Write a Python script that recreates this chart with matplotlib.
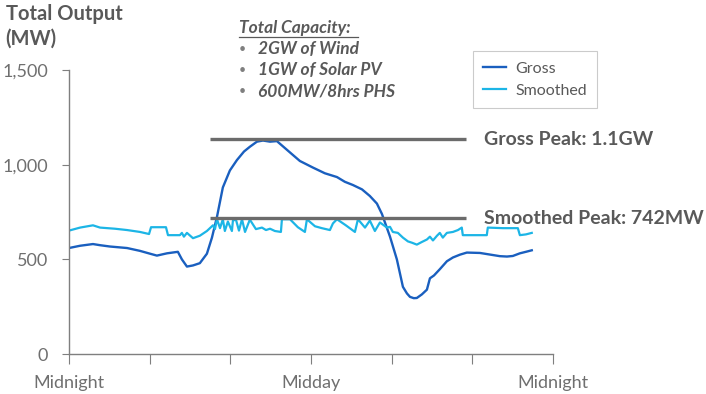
import matplotlib.pyplot as plt

# hours after midnight and output (MW)
gross_hours = [0, 0.55, 1.19, 1.54, 2.03, 2.88, 3.52, 4.02, 4.36, 4.86, 5.4, 5.6, 5.85,
               6.15, 6.49, 6.84, 7.09, 7.34, 7.63, 7.98, 8.33, 8.68, 8.97, 9.32, 9.62,
               9.97, 10.31, 10.96, 11.45, 12.1, 12.69, 13.29, 13.68, 14.08, 14.53, 14.92,
               15.27, 15.52, 15.72, 15.92, 16.26, 16.56, 16.76, 16.91, 17.1, 17.25, 17.5,
               17.75, 17.9, 18.1, 18.39, 18.74, 19.04, 19.39, 19.73, 20.38, 21.02, 21.37,
               21.72, 22.01, 22.36, 22.66, 22.95]
gross_mw = [560, 572, 581, 575, 568, 560, 545, 530, 520, 532, 540, 500, 462,
            468, 480, 530, 615, 725, 880, 970, 1025, 1070, 1095, 1122, 1128,
            1122, 1125, 1065, 1020, 985, 955, 935, 910, 893, 870, 835,
            795, 740, 680, 620, 500, 355, 320, 302, 295, 296, 315,
            340, 400, 415, 448, 490, 510, 525, 536, 534, 523, 517,
            515, 518, 532, 540, 548]

smooth_hours = [0, 0.55, 1.19, 1.54, 2.28, 2.88, 3.52, 3.97, 4.07, 4.81, 4.91, 5.5, 5.6,
                5.7, 5.85, 6.15, 6.49, 6.84, 7.14, 7.24, 7.34, 7.49, 7.63, 7.73, 7.88,
                8.08, 8.13, 8.28, 8.43, 8.58, 8.73, 8.97, 9.27, 9.57, 9.77, 9.97, 10.21,
                10.51, 10.56, 10.96, 11.35, 11.7, 11.8, 12.2, 12.54, 12.94, 13.09, 13.29,
                13.73, 14.18, 14.33, 14.68, 14.92, 15.17, 15.42, 15.77, 15.92, 16.06,
                16.31, 16.56, 16.81, 17.01, 17.25, 17.5, 17.75, 17.9, 18.05, 18.25,
                18.39, 18.54, 18.74, 19.04, 19.29, 19.48, 19.53, 20.72, 20.77, 21.52,
                22.26, 22.36, 22.66, 22.95]
smooth_mw = [652, 668, 680, 668, 662, 655, 645, 634, 670, 670, 628, 628, 640,
             620, 640, 612, 625, 650, 680, 660, 712, 665, 712, 650, 700,
             650, 705, 710, 652, 712, 645, 710, 660, 668, 655, 662, 650,
             645, 712, 712, 670, 645, 712, 675, 665, 655, 690, 712,
             680, 645, 712, 668, 705, 650, 695, 668, 672, 645,
             640, 615, 595, 588, 578, 592, 605, 620, 600, 625,
             640, 615, 640, 645, 655, 668, 628, 628, 668, 665,
             665, 628, 632, 640]

gross_peak = 1135
smooth_peak = 717
peak_span = [7.0, 19.7]

x_ticks = [0, 4, 8, 12, 16, 20, 24]
x_labels = ['Midnight', '', '', 'Midday', '', '', 'Midnight']
y_ticks = [0, 500, 1000, 1500]
y_labels = ['0', '500', '1,000', '1,500']
capacity = ['2GW of Wind', '1GW of Solar PV', '600MW/8hrs PHS']

plt.rcParams['font.family'] = ['Lato', 'DejaVu Sans']
text_grey = '#595959'
axis_grey = '#7f7f7f'

fig = plt.figure(figsize=(7.06, 3.94), dpi=100)
ax = fig.add_axes([0.0977, 0.1015, 0.6855, 0.7205])

ax.plot(gross_hours, gross_mw, color='#1a5fbf', linewidth=1.7, label='Gross')
ax.plot(smooth_hours, smooth_mw, color='#1cb5e6', linewidth=1.6, label='Smoothed')

ax.hlines([gross_peak, smooth_peak], peak_span[0], peak_span[1], color='#6b6b6b', linewidth=2.4)
ax.text(20.6, gross_peak, 'Gross Peak: 1.1GW', fontsize=14, fontweight='bold',
        color=text_grey, va='center', ha='left', clip_on=False)
ax.text(20.6, smooth_peak, 'Smoothed Peak: 742MW', fontsize=14, fontweight='bold',
        color=text_grey, va='center', ha='left', clip_on=False)

ax.set_xlim(0, 24)
ax.set_ylim(0, 1500)
ax.set_xticks(x_ticks)
ax.set_xticklabels(x_labels)
ax.set_yticks(y_ticks)
ax.set_yticklabels(y_labels)

for side in ['top', 'right']:
    ax.spines[side].set_visible(False)
for side in ['left', 'bottom']:
    ax.spines[side].set_color(axis_grey)
    ax.spines[side].set_linewidth(1.0)
ax.tick_params(axis='x', length=7, color=axis_grey, labelcolor='#6f6f6f', labelsize=13, pad=8)
ax.tick_params(axis='y', length=5, color=axis_grey, labelcolor='#6f6f6f', labelsize=13, pad=10)

leg = ax.legend(loc='upper left', bbox_to_anchor=(0.835, 1.067), borderaxespad=0, fontsize=11.5,
                frameon=True, fancybox=False, handlelength=1.4, handletextpad=0.6,
                borderpad=0.65, labelspacing=0.5)
leg.get_frame().set_edgecolor('#bfbfbf')
leg.get_frame().set_linewidth(0.8)
for t in leg.get_texts():
    t.set_color(text_grey)

# y axis title
fig.text(0.008, 0.99, 'Total Output\n(MW)', fontsize=14.5, fontweight='bold', color=text_grey,
         va='top', ha='left', linespacing=1.3)

# capacity note
fig.text(0.339, 0.929, 'Total Capacity:', fontsize=12.5, fontweight='bold', style='italic',
         color=text_grey, va='center', ha='left')
fig.add_artist(plt.Line2D([0.339, 0.507], [0.906, 0.906], color=text_grey, linewidth=0.9))
for i, item in enumerate(capacity):
    y = 0.876 - 0.054 * i
    fig.text(0.338, y, '•', fontsize=9, color='#7f7f7f', va='center', ha='left')
    fig.text(0.365, y, item, fontsize=12.5, fontweight='bold', style='italic',
             color=text_grey, va='center', ha='left')

fig.savefig('out.png', dpi=100)
